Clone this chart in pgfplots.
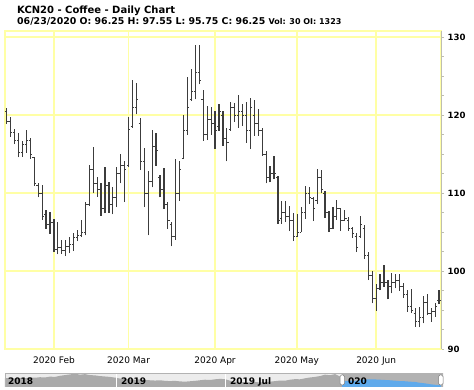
\documentclass[border=0pt]{standalone}
\usepackage{fontspec}
\setmainfont{DejaVu Sans}
\usepackage{pgfplots}
\usepackage{pgfplotstable}
\pgfplotsset{compat=1.18}
\definecolor{grid}{RGB}{255,255,165}
\definecolor{barcol}{RGB}{60,60,60}
\definecolor{axcol}{RGB}{190,190,175}
\definecolor{navbg}{RGB}{236,236,236}
\definecolor{navarea}{RGB}{170,170,170}
\definecolor{navsel}{RGB}{178,178,178}
\definecolor{navblue}{RGB}{95,170,235}
\pgfdeclareplotmark{otick}{\pgfpathmoveto{\pgfqpoint{-1.8pt}{0pt}}\pgfpathlineto{\pgfqpoint{0pt}{0pt}}\pgfusepathqstroke}
\pgfdeclareplotmark{ctick}{\pgfpathmoveto{\pgfqpoint{0pt}{0pt}}\pgfpathlineto{\pgfqpoint{1.8pt}{0pt}}\pgfusepathqstroke}
\pgfdeclareplotmark{nothing}{}
\pgfplotstableread{
i o h l c
0 120.5 120.96 118.84 119.2
1 119.2 119.77 117.22 117.8
2 117.8 118.2 116.28 116.8
3 116.8 117.77 114.57 115.2
4 115.2 116.7 114.66 116.2
5 116.2 118.1 115.2 116.8
6 116.8 117.1 114.4 115.0
7 114.6 114.66 110.96 111.3
8 111.0 111.25 109.46 110.0
9 110.0 111.1 106.6 107.0
10 107.2 107.77 105.43 106.0
11 106.0 107.6 104.8 106.3
12 106.3 106.7 102.44 102.8
13 102.8 106.27 102.15 103.0
14 103.0 103.93 102.24 102.6
15 102.6 103.93 101.9 103.2
16 103.2 104.36 102.3 103.4
17 103.4 104.87 102.57 104.3
18 104.3 105.3 103.85 104.6
19 104.6 106.5 104.36 105.0
20 105.0 108.83 104.57 108.6
21 108.6 113.64 108.4 113.0
22 113.0 115.94 109.97 111.3
23 111.3 112.1 109.56 110.5
24 110.5 111.25 107.1 108.0
25 108.0 113.3 107.4 111.0
26 111.0 111.4 107.5 108.5
27 108.5 110.83 107.26 109.5
28 109.5 113.4 108.2 112.5
29 112.5 115.0 111.25 113.5
30 113.5 114.06 108.83 113.0
31 113.5 119.77 113.3 118.2
32 118.6 124.46 118.4 121.0
33 121.0 124.15 120.1 122.0
34 119.0 119.68 112.96 114.0
35 114.0 115.85 108.19 110.0
36 110.0 112.87 104.57 111.5
37 111.5 118.07 110.74 116.0
38 116.0 117.77 113.5 115.5
39 112.0 112.36 109.46 110.5
40 110.5 113.2 107.98 108.5
41 108.5 108.83 105.43 106.5
42 106.0 106.27 103.17 104.5
43 104.5 114.37 104.0 110.0
44 110.0 114.15 109.04 113.0
45 114.5 120.03 114.37 118.0
46 118.0 124.9 117.5 121.0
47 122.0 125.86 121.81 123.0
48 123.0 129.06 122.03 125.5
49 125.5 128.97 123.95 124.5
50 122.0 123.2 116.7 117.5
51 117.5 121.17 116.8 119.5
52 119.5 121.05 117.47 119.0
53 119.0 120.54 115.64 118.0
54 118.5 121.4 117.98 120.5
55 120.0 120.54 116.07 117.0
56 117.0 118.4 114.06 116.5
57 118.2 121.72 117.98 121.0
58 121.0 121.6 119.17 120.0
59 120.0 122.58 118.4 120.5
60 120.5 121.4 118.6 120.0
61 120.0 121.72 116.49 118.0
62 118.0 122.15 115.64 121.0
63 120.0 121.9 117.34 119.0
64 119.0 120.75 117.34 118.0
65 118.0 118.4 114.8 115.0
66 115.0 115.43 111.25 112.0
67 112.0 113.5 111.38 112.5
68 112.5 114.8 111.8 112.5
69 112.0 112.23 106.07 106.5
70 106.8 109.04 106.07 107.5
71 107.5 108.95 106.27 107.0
72 107.0 108.4 105.12 106.5
73 106.5 107.42 103.85 104.5
74 104.5 107.34 104.44 105.0
75 105.0 108.28 104.99 107.5
76 107.5 110.96 106.7 110.0
77 110.0 110.74 108.6 109.5
78 109.3 109.46 106.4 108.0
79 109.0 113.1 108.6 112.0
80 112.0 112.96 109.97 110.5
81 110.0 110.23 106.83 107.5
82 107.5 107.68 104.99 105.5
83 105.5 108.28 105.37 107.0
84 107.0 109.13 106.58 108.0
85 108.0 108.11 105.12 106.5
86 106.5 107.85 106.4 106.8
87 106.5 106.9 105.2 105.5
88 105.5 105.7 104.27 104.8
89 104.5 104.87 102.44 103.0
90 104.5 107.0 104.27 106.0
91 105.5 105.85 101.6 102.0
92 102.0 102.44 98.83 99.5
93 99.5 100.0 95.85 96.5
94 96.5 98.4 94.9 97.8
95 97.8 99.68 97.55 98.5
96 98.5 100.74 97.97 98.5
97 98.5 98.9 96.36 98.0
98 98.0 99.76 97.13 98.5
99 98.5 99.68 97.77 98.8
100 98.8 99.6 97.46 98.0
101 98.0 98.5 96.6 97.0
102 97.0 97.55 94.78 95.5
103 95.5 97.64 94.65 95.0
104 94.5 95.2 92.86 93.5
105 93.5 95.33 92.78 94.0
106 94.0 96.78 93.3 96.0
107 96.0 97.04 94.35 94.5
108 94.5 95.2 93.5 94.8
109 94.8 95.85 94.14 95.5
110 96.25 97.55 95.75 96.25
}\ohlc
\pgfplotstableread{
x y
5 0.62
10 0.65
15 0.6
20 0.66
25 0.63
30 0.68
35 0.66
40 0.7
45 0.68
50 0.74
55 0.72
60 0.8
65 0.85
70 0.9
75 0.95
80 0.88
85 0.92
90 0.85
95 0.83
100 0.78
105 0.75
110 0.72
116 0.66
120 0.6
125 0.58
130 0.55
135 0.53
140 0.54
145 0.5
150 0.48
155 0.46
160 0.48
165 0.44
170 0.42
175 0.44
180 0.4
185 0.38
190 0.41
195 0.44
200 0.48
205 0.52
210 0.5
215 0.55
220 0.58
225 0.56
230 0.45
235 0.38
240 0.36
245 0.34
250 0.33
255 0.36
260 0.32
265 0.35
270 0.38
275 0.42
280 0.46
285 0.45
290 0.52
295 0.56
300 0.55
305 0.62
310 0.68
315 0.72
320 0.78
325 0.88
330 0.84
335 0.92
340 0.75
342 0.7
}\navgrey
\pgfplotstableread{
x y
342 0.4
350 0.45
355 0.44
360 0.5
365 0.53
370 0.55
375 0.54
380 0.52
385 0.5
390 0.48
395 0.45
400 0.42
405 0.41
410 0.38
415 0.36
420 0.3
425 0.26
430 0.2
435 0.16
441 0.12
}\navblue
\begin{document}
\begin{tikzpicture}[x=1pt,y=1pt]
\path (0,0) rectangle (474,390);
\node[anchor=base west,inner sep=0pt,font=\bfseries\fontsize{10}{12}\selectfont] at (17,376) {KCN20 - Coffee - Daily Chart};
\node[anchor=base west,inner sep=0pt] at (17,365) {\bfseries\fontsize{9.4}{11}\selectfont 06/23/2020 O: 96.25 H: 97.55 L: 95.75 C: 96.25 {\fontsize{8}{10}\selectfont Vol: 30 OI: 1323}};
\begin{axis}[
  at={(5pt,41pt)}, anchor=south west,
  scale only axis, width=436pt, height=318pt,
  xmin=-0.45, xmax=110.5, ymin=90, ymax=130.8,
  axis line style={draw=grid, line width=1.6pt},
  xtick={12,31,53,73.8,94},
  xticklabels={2020 Feb,2020 Mar,2020 Apr,2020 May,2020 Jun},
  xtick style={draw=none},
  xticklabel style={font=\fontsize{9}{10}\selectfont, yshift=-1pt},
  ytick={90,100,110,120,130},
  minor ytick={92.5,95,97.5,102.5,105,107.5,112.5,115,117.5,122.5,125,127.5},
  ytick pos=right, yticklabel pos=right,
  tick align=outside, major tick length=3pt, minor tick length=2.5pt,
  ytick style={draw=axcol, line width=0.8pt},
  yticklabel style={font=\bfseries\fontsize{8.6}{10}\selectfont, anchor=west, xshift=0pt},
  /pgf/number format/assume math mode=true,
  grid=major,
  major grid style={draw=grid, line width=1.6pt},
  clip=false,
]
\draw[axcol, line width=0.8pt] (rel axis cs:1,0) -- (rel axis cs:1,1);
\addplot[only marks, mark=nothing, error bars/.cd, y dir=plus, y explicit, error mark=none,
  error bar style={draw=barcol, line width=1.2pt}]
  table[x=i, y=l, y error expr=\thisrow{h}-\thisrow{l}] {\ohlc};
\addplot[only marks, mark=otick, mark options={draw=barcol, line width=0.9pt}] table[x=i, y=o] {\ohlc};
\addplot[only marks, mark=ctick, mark options={draw=barcol, line width=0.9pt}] table[x=i, y=c] {\ohlc};
\end{axis}
\begin{axis}[
  at={(5pt,3pt)}, anchor=south west,
  scale only axis, width=438pt, height=14pt,
  xmin=5, xmax=443, ymin=0, ymax=1,
  hide axis, clip=true,
]
\fill[navbg] (axis cs:5,0) rectangle (axis cs:443,1);
\fill[navsel] (axis cs:342,0) rectangle (axis cs:443,1);
\addplot[fill=navarea, draw=none] table[x=x,y=y] {\navgrey} \closedcycle;
\addplot[fill=navblue, draw=none] table[x=x,y=y] {\navblue} \closedcycle;
\draw[white, line width=0.6pt] (axis cs:116,0) -- (axis cs:116,1);
\draw[white, line width=0.6pt] (axis cs:225,0) -- (axis cs:225,1);
\draw[gray!60, line width=0.5pt] (axis cs:5,0) rectangle (axis cs:443,1);
\end{axis}
\node[anchor=base west,inner sep=0pt,font=\bfseries\fontsize{9}{10}\selectfont] at (8,5) {2018};
\node[anchor=base west,inner sep=0pt,font=\bfseries\fontsize{9}{10}\selectfont] at (121,5) {2019};
\node[anchor=base west,inner sep=0pt,font=\bfseries\fontsize{9}{10}\selectfont] at (230,5) {2019 Jul};
\node[anchor=base west,inner sep=0pt,font=\bfseries\fontsize{9}{10}\selectfont] at (348,5) {020};
\draw[gray, fill=white, rounded corners=1.5pt, line width=0.5pt] (340,5) rectangle (344.5,15);
\draw[gray, fill=white, rounded corners=1.5pt, line width=0.5pt] (438.5,5) rectangle (443,15);
\end{tikzpicture}
\end{document}
